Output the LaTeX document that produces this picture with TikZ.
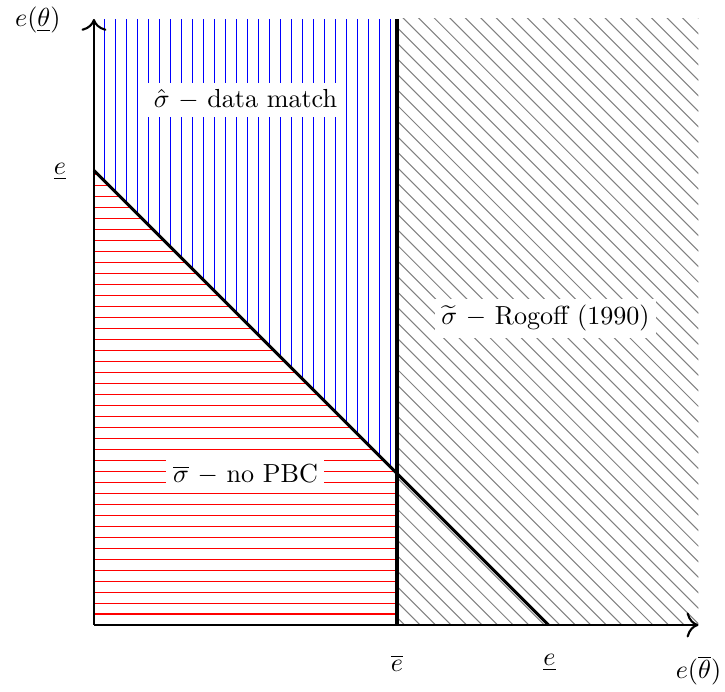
\documentclass[tikz,border=0pt]{standalone}
\usepackage{amsmath,amssymb}
\usetikzlibrary{arrows.meta,calc}

\tikzset{
  hatchlbl/.style={fill=white,inner sep=2.5pt},
  hatchline/.style={line width=0.4pt}
}

\begin{document}
\begin{tikzpicture}[font=\normalsize,x=2.04cm,y=2.04cm]
  \useasboundingbox (-0.620,-0.442) rectangle (4.165,4.125);

  % Corner points of the regions.
  \coordinate (O) at (0,0);
  \coordinate (xend) at (3.99,0);
  \coordinate (yend) at (0,4.0);
  \coordinate (eup) at (0,3);
  \coordinate (ebar) at (2,0);
  \coordinate (ebartop) at (2,4);
  \coordinate (kink) at (2,1);
  \coordinate (elow) at (3,0);
  \coordinate (corner) at (3.99,4);

  % Grey hatching right of the vertical line.
  \begin{scope}
    \clip (ebar) rectangle (corner);
    \foreach \k in {19,...,80}
      {\draw[hatchline,gray] (\k*0.1025,0) -- ++(-4.2,4.2);}
  \end{scope}

  % Blue vertical lines above the diagonal.
  \begin{scope}
    \clip (eup) -- (kink) -- (ebartop) -- (yend) -- cycle;
    \foreach \k in {1,...,27}
      {\draw[hatchline,blue] (\k*0.0725,0) -- (\k*0.0725,4);}
  \end{scope}

  % Red horizontal lines below the diagonal.
  \begin{scope}
    \clip (O) -- (ebar) -- (kink) -- (eup) -- cycle;
    \foreach \k in {1,...,42}
      {\draw[hatchline,red] (0,\k*0.0725) -- (2,\k*0.0725);}
  \end{scope}

  % Boundaries.
  \draw[line width=1.4pt] (ebar) -- (ebartop);
  \draw[very thick] (eup) -- (elow);

  % Axes.
  \draw[thick,-{To[length=1.6mm]}] (O) -- (xend);
  \draw[thick,-{To[length=1.6mm]}] (O) -- (yend);

  % Axis labels.
  \node (ylab) at (-0.37,3.99) {$e(\underline{\theta})$};
  \node (xlab) at (3.99,-0.30) {$e(\overline{\theta})$};
  \node (eupl) at (-0.224,2.99) {$\underline{e}$};
  \node (ebarl) at (2.0,-0.25) {$\overline{e}$};
  \node (elowl) at (3.007,-0.25) {$\underline{e}$};

  % Region labels.
  \node[hatchlbl] (match) at (1.0,3.465) {$\hat{\sigma}$ $-$ data match};
  \node[hatchlbl] (rogoff) at (2.98,2.023) {$\widetilde{\sigma}$ $-$ Rogoff (1990)};
  \node[hatchlbl] (nopbc) at (1.0,0.997) {$\overline{\sigma}$ $-$ no PBC};
\end{tikzpicture}
\end{document}
